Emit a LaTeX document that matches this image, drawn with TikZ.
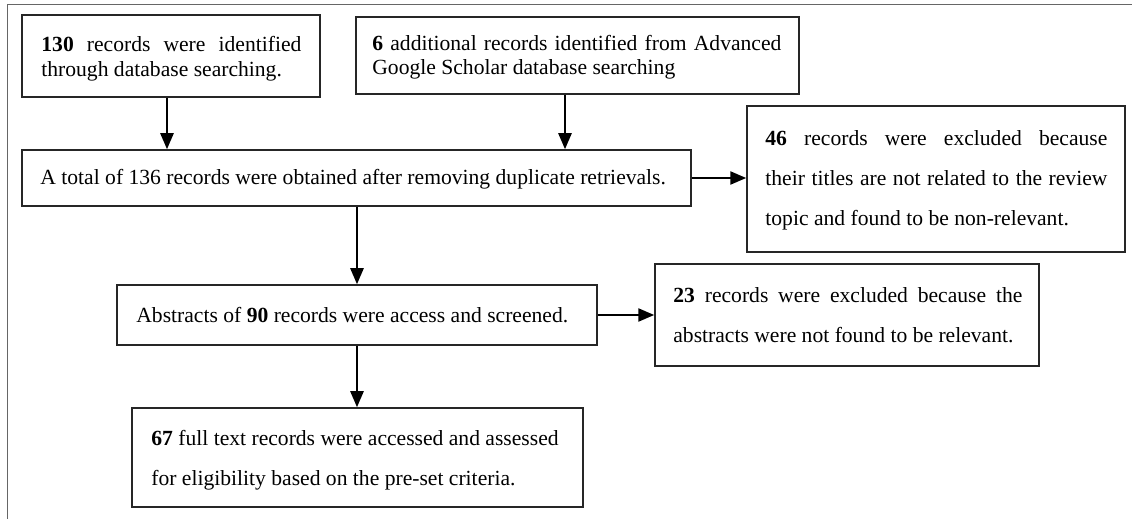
\documentclass[tikz,border=0pt]{standalone}
\usepackage{fontspec}
\setmainfont{Liberation Serif}
\usetikzlibrary{arrows.meta,calc}
\begin{document}
\begin{tikzpicture}[x=0.5pt,y=-0.5pt,
  box/.style={draw=black!85, line width=0.75pt, inner sep=0pt},
  txt/.style={anchor=base west, inner sep=0pt, font=\fontsize{10.8}{13}\selectfont},
  arr/.style={-{Triangle[length=8pt,width=6.5pt]}, line width=1.2pt, black},
  frameline/.style={draw=black!60, line width=0.5pt}]
\useasboundingbox (0,0) rectangle (1132,519);

% page frame
\draw[frameline] (7,519) -- (7,5) -- (1132,5);

% boxes
\node[box, minimum width=149pt, minimum height=41pt] (b1) at (171,56) {};
\node[box, minimum width=221.5pt, minimum height=38.5pt] (b2) at (577.5,55.5) {};
\node[box, minimum width=334.5pt, minimum height=28pt] (b3) at (356.5,178) {};
\node[box, minimum width=189pt, minimum height=73pt] (b4) at (936,179) {};
\node[box, minimum width=240pt, minimum height=30pt] (b5) at (357,315) {};
\node[box, minimum width=192pt, minimum height=51pt] (b6) at (847,315) {};
\node[box, minimum width=225.5pt, minimum height=49.5pt] (b7) at (357.5,457.5) {};

% texts
\node[txt] (t1) at (41,52) {\vtop{\baselineskip=12.5pt
  \hbox to 130pt{\textbf{130} records were identified}
  \hbox{through database searching.}}};
\node[txt] (t2) at (372,51) {\vtop{\baselineskip=12pt
  \hbox to 204.5pt{\textbf{6} additional records identified from Advanced}
  \hbox{Google Scholar database searching}}};
\node[txt] (t3) at (40,185) {A total of 136 records were obtained after removing duplicate retrievals.};
\node[txt] (t4) at (765,146) {\vtop{\baselineskip=20pt
  \hbox to 171pt{\textbf{46} records were excluded because}
  \hbox to 171pt{their titles are not related to the review}
  \hbox{topic and found to be non-relevant.}}};
\node[txt] (t5) at (136,322) {Abstracts of \textbf{90} records were access and screened.};
\node[txt] (t6) at (673,303) {\vtop{\baselineskip=20pt
  \hbox to 174.5pt{\textbf{23} records were excluded because the}
  \hbox{abstracts were not found to be relevant.}}};
\node[txt] (t7) at (151,445) {\vtop{\baselineskip=20pt
  \hbox{\textbf{67} full text records were accessed and assessed}
  \hbox{for eligibility based on the pre-set criteria.}}};

% connectors
\draw[arr] ([xshift=-2pt]b1.south) -- ([xshift=-2pt]b1.south |- b3.north);
\draw[arr] ([xshift=-6.25pt]b2.south) -- ([xshift=-6.25pt]b2.south |- b3.north);
\draw[arr] (b3.east) -- (b3.east -| b4.west);
\draw[arr] (b5.north |- b3.south) -- (b5.north);
\draw[arr] (b5.east) -- (b5.east -| b6.west);
\draw[arr] (b5.south) -- (b5.south |- b7.north);
\end{tikzpicture}
\end{document}
